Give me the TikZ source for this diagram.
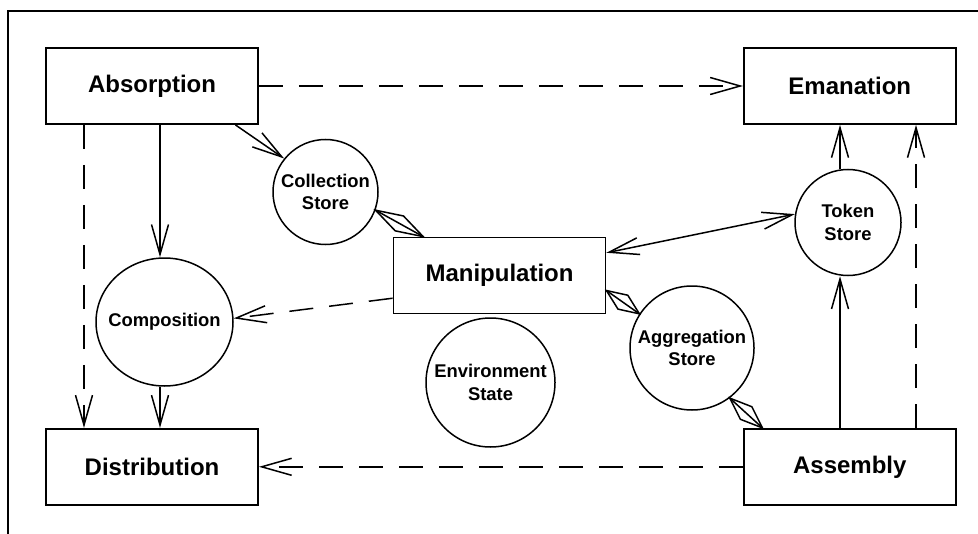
\documentclass[tikz,border=0pt]{standalone}
\usepackage{fontspec}
\setmainfont{Liberation Sans}
\usetikzlibrary{arrows.meta,shapes.geometric,positioning,calc}

\newcommand{\diamondlink}[2]{%
\draw[myedge] (#1) -- ($(#1)!0.5!(#2)!4.25pt!90:(#2)$) -- (#2)
  -- ($(#1)!0.5!(#2)!4.25pt!-90:(#2)$) -- cycle;
\draw[myedge] (#1) -- (#2);}

\begin{document}
\begin{tikzpicture}
[x=0.5pt,y=-0.5pt,
box/.style={shape=rectangle,draw=black,line width=0.9pt,minimum width=106pt,minimum height=38pt,inner sep=0pt,font=\fontsize{12}{14}\selectfont\bfseries},
store/.style={shape=circle,draw=black,line width=0.75pt,inner sep=0pt,align=center,font=\fontsize{9.2}{11.3}\selectfont\bfseries},
myedge/.style={line width=0.75pt},
mydash/.style={myedge,dash pattern=on 12pt off 8pt},
>={Straight Barb[length=15pt,width=8.5pt]}]

\useasboundingbox (0,0) rectangle (978,534);
\draw[line width=0.9pt] (8,534) -- (8,11) -- (978,11);

\node (absorption) [box] at (152,86) {Absorption};
\node (emanation) [box,right=242pt of absorption] {Emanation};
\node (distribution) [box,below=151.5pt of absorption] {Distribution};
\node (assembly) [box,right=242pt of distribution] {Assembly};
\node (manipulation) [box] at (499.5,275.5) {Manipulation};

\node (collection) [store,minimum size=52.5pt] at (325.5,192) {Collection\\Store};
\node (token) [store,minimum size=53pt] at (848,222.5) {Token\\Store};
\node (composition) [store,shape=ellipse,minimum width=68.5pt,minimum height=64pt,inner xsep=-6pt] at (164.5,322) {Composition};
\node (environment) [store,minimum size=64.5pt] at (490.5,382.5) {Environment\\State};
\node (aggregation) [store,minimum size=62pt] at (692,348) {Aggregation\\Store};

\coordinate (lx) at (84,0);
\coordinate (cx) at (160,0);
\coordinate (tx) at (840,0);
\coordinate (rx) at (916,0);

\draw[mydash,->] (absorption) -- (emanation);
\draw[mydash,->] (assembly) -- (distribution);
\draw[mydash,->] (absorption.south -| lx) -- (distribution.north -| lx);
\draw[mydash,->] (assembly.north -| rx) -- (emanation.south -| rx);
\draw[myedge,->] (absorption.south -| cx) -- (composition.north -| cx);
\draw[myedge,->] (composition.south -| cx) -- (distribution.north -| cx);
\draw[myedge,->] (assembly.north -| tx) -- (token.south -| tx);
\draw[myedge,->] (token.north -| tx) -- (emanation.south -| tx);
\draw[myedge,->] (absorption.-25) -- (collection.141);
\draw[mydash,->] (manipulation.192) -- (composition.3);
\draw[myedge,<->] (manipulation.12) -- (token.171);
\diamondlink{collection.-20}{manipulation.153}
\diamondlink{manipulation.-8}{aggregation.147}
\diamondlink{aggregation.-53}{assembly.156}

\end{tikzpicture}
\end{document}
